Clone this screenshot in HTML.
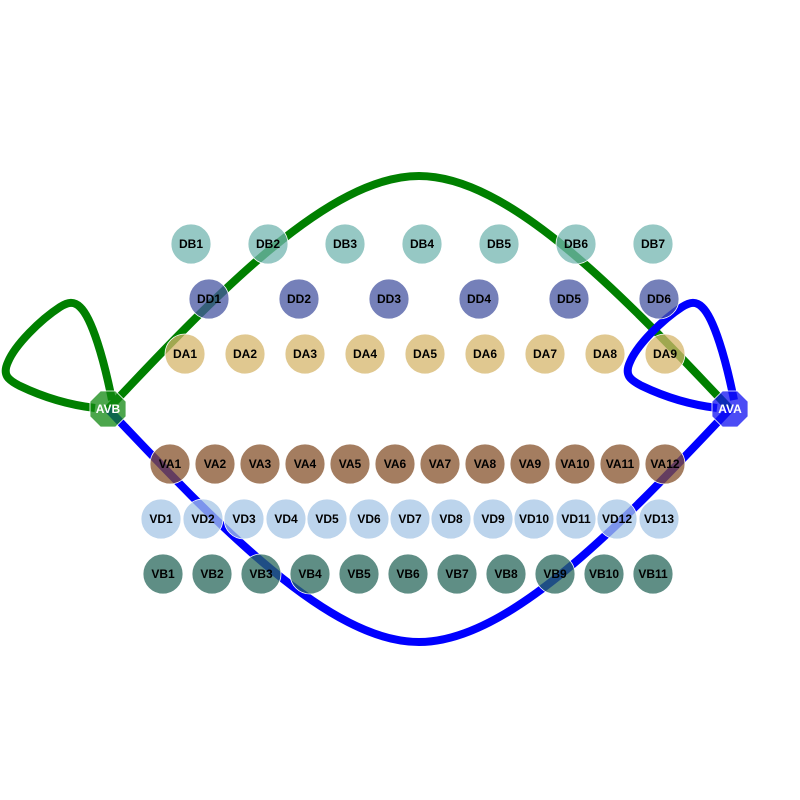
<!DOCTYPE html>
<html><head><meta charset="utf-8">
<style>
html,body{margin:0;padding:0;background:#fff;}
svg{display:block;}
text{font-family:"Liberation Sans",sans-serif;font-weight:bold;font-size:12px;}
</style></head>
<body>
<svg id="chart" width="800" height="800" viewBox="0 0 800 800">
  <g id="edges">
    <path d="M108,409 C220,290 330,176 419,176 C508,176 618,290 730,409" fill="none" stroke="#008000" stroke-width="8"/>
    <path d="M108,409 C220,528 330,642 419,642 C508,642 618,528 730,409" fill="none" stroke="#0000ff" stroke-width="8"/>
    <path d="M112,400 C104,360 92,318 80,307 C74,301 68,302 60,307 C40,320 15,345 8,362 C2,375 8,380 20,386 C45,398 70,405 95,408" fill="none" stroke="#008000" stroke-width="8"/>
    <path transform="translate(622,0)" d="M112,400 C104,360 92,318 80,307 C74,301 68,302 60,307 C40,320 15,345 8,362 C2,375 8,380 20,386 C45,398 70,405 95,408" fill="none" stroke="#0000ff" stroke-width="8"/>
  </g>
  <g id="nodes"></g>
</svg>
<script>
const dbNames=["DB1","DB2","DB3","DB4","DB5","DB6","DB7"];
const dbX=[191,268,345,422,499,576,653];
const ddNames=["DD1","DD2","DD3","DD4","DD5","DD6"];
const ddX=[209,299,389,479,569,659];
const daNames=["DA1","DA2","DA3","DA4","DA5","DA6","DA7","DA8","DA9"];
const daX=[185,245,305,365,425,485,545,605,665];
const vaNames=["VA1","VA2","VA3","VA4","VA5","VA6","VA7","VA8","VA9","VA10","VA11","VA12"];
const vaX=[170,215,260,305,350,395,440,485,530,575,620,665];
const vdNames=["VD1","VD2","VD3","VD4","VD5","VD6","VD7","VD8","VD9","VD10","VD11","VD12","VD13"];
const vdX=[161,203,244,286,327,369,410,451,493,534,576,617,659];
const vbNames=["VB1","VB2","VB3","VB4","VB5","VB6","VB7","VB8","VB9","VB10","VB11"];
const vbX=[163,212,261,310,359,408,457,506,555,604,653];
const groups=[
 {names:dbNames,xs:dbX,y:244,fill:"rgb(115,182,176)"},
 {names:ddNames,xs:ddX,y:299,fill:"rgb(71,86,162)"},
 {names:daNames,xs:daX,y:354,fill:"rgb(214,182,107)"},
 {names:vaNames,xs:vaX,y:464,fill:"rgb(134,82,43)"},
 {names:vdNames,xs:vdX,y:519,fill:"rgb(166,198,230)"},
 {names:vbNames,xs:vbX,y:574,fill:"rgb(42,104,92)"}
];
const hubNames=["AVB","AVA"];
const hubX=[108,730];
const hubFill=["rgb(16,136,16)","rgb(16,16,242)"];
const NS="http://www.w3.org/2000/svg";
const g=document.getElementById("nodes");
groups.forEach(gr=>{
  gr.names.forEach((n,i)=>{
    const c=document.createElementNS(NS,"circle");
    c.setAttribute("cx",gr.xs[i]);c.setAttribute("cy",gr.y);c.setAttribute("r",20);
    c.setAttribute("fill",gr.fill);c.setAttribute("fill-opacity","0.75");
    c.setAttribute("stroke","#fff");c.setAttribute("stroke-width","0.8");
    
    
    g.appendChild(c);
    const t=document.createElementNS(NS,"text");
    t.setAttribute("x",gr.xs[i]);t.setAttribute("y",gr.y+4);t.setAttribute("text-anchor","middle");
    t.setAttribute("fill","#000");t.textContent=n;
    
    
    g.appendChild(t);
  });
});
hubNames.forEach((n,i)=>{
  const cx=hubX[i],cy=409,r=19.5;
  let pts=[];
  for(let k=0;k<8;k++){const a=Math.PI/8+k*Math.PI/4;pts.push((cx+r*Math.cos(a)).toFixed(1)+","+(cy+r*Math.sin(a)).toFixed(1));}
  const p=document.createElementNS(NS,"polygon");
  p.setAttribute("points",pts.join(" "));
  p.setAttribute("fill",hubFill[i]);p.setAttribute("fill-opacity","0.75");
  p.setAttribute("stroke","#fff");p.setAttribute("stroke-width","0.8");
  
  
  g.appendChild(p);
  const t=document.createElementNS(NS,"text");
  t.setAttribute("x",cx);t.setAttribute("y",cy+4);t.setAttribute("text-anchor","middle");
  t.setAttribute("fill","#fff");t.textContent=n;
  
  
  g.appendChild(t);
});
</script>
</body></html>
